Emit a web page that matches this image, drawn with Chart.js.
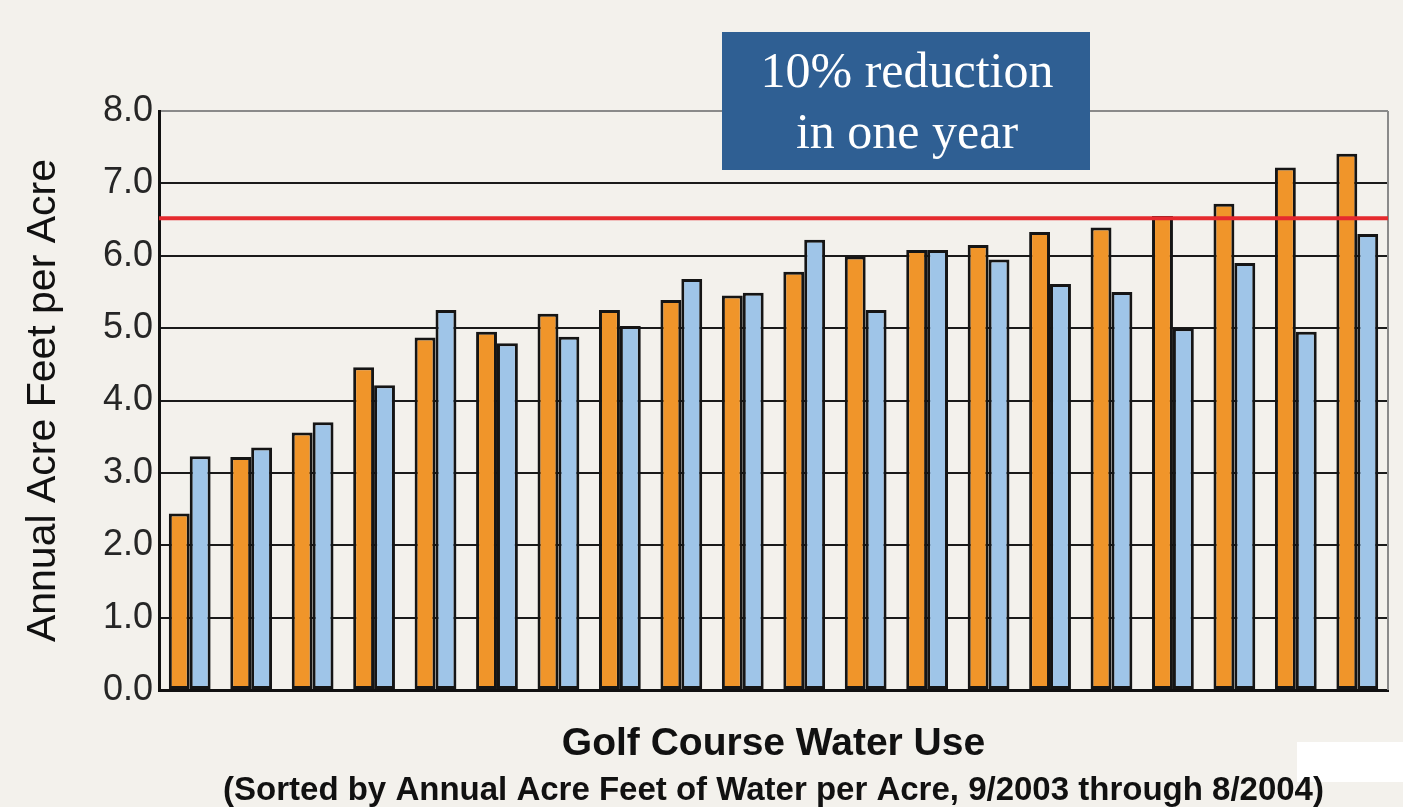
<!DOCTYPE html>
<html>
<head>
<meta charset="utf-8">
<script src="https://cdn.jsdelivr.net/npm/chart.js@4/dist/chart.umd.min.js"></script>
<style>
  html, body { margin: 0; padding: 0; background: #f3f1ec; }
  #wrap { width: 1403px; height: 807px; position: relative; }
</style>
</head>
<body>
<div id="wrap"><canvas id="c" width="1403" height="807"></canvas></div>
<script>
// ---- data ----
const categories = ['Course 1','Course 2','Course 3','Course 4','Course 5','Course 6','Course 7','Course 8','Course 9','Course 10',
                    'Course 11','Course 12','Course 13','Course 14','Course 15','Course 16','Course 17','Course 18','Course 19','Course 20'];
const seriesOrange = [2.44, 3.22, 3.56, 4.46, 4.87, 4.95, 5.20, 5.25, 5.39, 5.45, 5.78, 5.99, 6.08, 6.15, 6.33, 6.39, 6.55, 6.72, 7.22, 7.41];
const seriesBlue   = [3.23, 3.35, 3.70, 4.21, 5.25, 4.79, 4.88, 5.03, 5.68, 5.49, 6.22, 5.25, 6.08, 5.95, 5.61, 5.50, 5.00, 5.90, 4.95, 6.30];
const yTickLabels = ['0.0','1.0','2.0','3.0','4.0','5.0','6.0','7.0','8.0'];
const targetValue = 6.52;
const annotationLines = ['10% reduction', 'in one year'];
const yTitle = 'Annual Acre Feet per Acre';
const xTitle = 'Golf Course Water Use';
const xSubtitle = '(Sorted by Annual Acre Feet of Water per Acre, 9/2003 through 8/2004)';

const BG = '#f3f1ec';

const decorPlugin = {
  id: 'decor',
  beforeDraw(chart) {
    const ctx = chart.ctx;
    ctx.save();
    ctx.fillStyle = BG;
    ctx.fillRect(0, 0, chart.width, chart.height);
    // white patch bottom right (as in the picture)
    ctx.fillStyle = '#ffffff';
    ctx.fillRect(1297, 742, 106, 40);
    ctx.restore();
  },
  afterDatasetsDraw(chart) {
    const ctx = chart.ctx;
    const a = chart.chartArea;
    const y = chart.scales.y;
    ctx.save();
    // right frame line (grey)
    ctx.strokeStyle = '#8a8a8a';
    ctx.lineWidth = 2;
    ctx.beginPath();
    ctx.moveTo(a.right, a.top);
    ctx.lineTo(a.right, a.bottom);
    ctx.stroke();
    // red target line
    const py = y.getPixelForValue(targetValue);
    ctx.strokeStyle = '#e52a2e';
    ctx.lineWidth = 4;
    ctx.beginPath();
    ctx.moveTo(a.left, py);
    ctx.lineTo(a.right, py);
    ctx.stroke();
    ctx.restore();
  },
  afterDraw(chart) {
    const ctx = chart.ctx;
    ctx.save();
    ctx.fillStyle = '#2f5f93';
    ctx.fillRect(722, 32, 368, 138);
    ctx.fillStyle = '#ffffff';
    ctx.font = '50px "Liberation Serif", "Times New Roman", serif';
    ctx.textAlign = 'center';
    ctx.textBaseline = 'alphabetic';
    ctx.fillText(annotationLines[0], 907, 87);
    ctx.fillText(annotationLines[1], 907, 148);
    ctx.restore();
  }
};

new Chart(document.getElementById('c'), {
  type: 'bar',
  data: {
    labels: categories,
    datasets: [
      { label: 'Year 1', data: seriesOrange, backgroundColor: '#f0952a', borderColor: '#151515', borderWidth: 3, borderSkipped: false },
      { label: 'Year 2', data: seriesBlue, backgroundColor: '#9fc5e8', borderColor: '#151515', borderWidth: 3, borderSkipped: false }
    ]
  },
  options: {
    responsive: false,
    animation: false,
    devicePixelRatio: 1,
    layout: { padding: { top: 111, right: 15, left: 0, bottom: 0 } },
    datasets: { bar: { categoryPercentage: 0.68, barPercentage: 1.0 } },
    plugins: {
      legend: { display: false },
      tooltip: { enabled: false },
      title: { display: false },
      subtitle: {
        display: true,
        position: 'bottom',
        fullSize: false,
        text: xSubtitle,
        color: '#111',
        font: { family: '"Liberation Sans", Arial, sans-serif', size: 33, weight: 'bold', lineHeight: 1.0 },
        padding: { top: 8, bottom: 0 }
      }
    },
    scales: {
      x: {
        grid: { display: false, drawTicks: false },
        border: { display: true, color: '#111', width: 3 },
        ticks: { display: false },
        title: {
          display: true,
          text: xTitle,
          color: '#111',
          font: { family: '"Liberation Sans", Arial, sans-serif', size: 39, weight: 'bold', lineHeight: 1.1 },
          padding: { top: 33, bottom: 0 }
        }
      },
      y: {
        min: 0, max: 8,
        afterFit(scale) { scale.width = 159; },
        grid: {
          drawTicks: false,
          lineWidth: 2,
          color: (c) => (c.tick && c.tick.value === 8) ? '#8a8a8a' : '#1a1a1a'
        },
        border: { display: true, color: '#111', width: 3 },
        ticks: {
          stepSize: 1,
          padding: 6,
          color: '#262626',
          font: { family: '"Liberation Sans", Arial, sans-serif', size: 36 },
          callback: (v) => yTickLabels[v] !== undefined ? yTickLabels[v] : ''
        },
        title: {
          display: true,
          text: yTitle,
          color: '#111',
          font: { family: '"Liberation Sans", Arial, sans-serif', size: 41, lineHeight: 1.2 },
          padding: { top: 19, bottom: 0 }
        }
      }
    }
  },
  plugins: [decorPlugin]
});
</script>
</body>
</html>
